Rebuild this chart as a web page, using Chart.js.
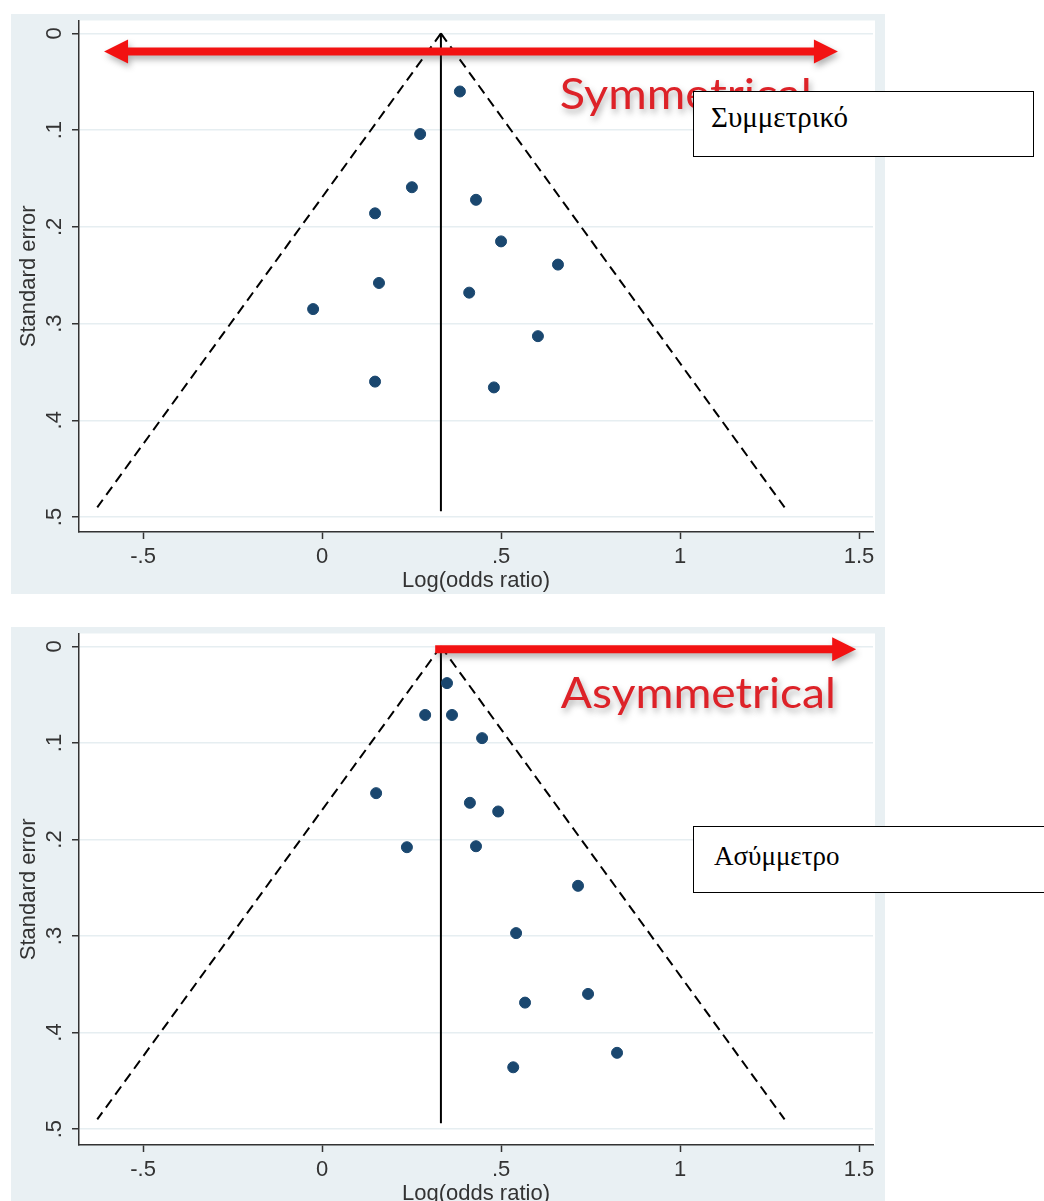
<!DOCTYPE html>
<html>
<head>
<meta charset="utf-8">
<title>Funnel plots</title>
<script src="https://cdn.jsdelivr.net/npm/chart.js@4.4.1/dist/chart.umd.min.js"></script>
<style>
  body { margin: 0; background: #fff; overflow: hidden; width: 1044px; height: 1201px; position: relative; }
  canvas { position: absolute; }
  #symChart { left: 11px; top: 14px; }
  #asymChart { left: 11px; top: 627px; }
  .note {
    position: absolute; background: #fff; border: 1px solid #000; box-sizing: border-box;
    font-family: "Liberation Serif", "DejaVu Serif", serif; font-size: 27px; color: #000;
  }
</style>
</head>
<body>
<canvas id="symChart" width="874" height="580"></canvas>
<canvas id="asymChart" width="874" height="580"></canvas>
<div class="note" style="left:693px;top:91px;width:341px;height:66px;padding:9px 0 0 17px;font-size:29px;">Συμμετρικό</div>
<div class="note" style="left:693px;top:826px;width:360px;height:67px;padding:14px 0 0 20px;">Ασύμμετρο</div>

<script>
// AXES
const xTicks = [-0.5, 0, 0.5, 1, 1.5];
const xTickLabels = ["-.5", "0", ".5", "1", "1.5"];
const yTicks = [0, 0.1, 0.2, 0.3, 0.4, 0.5];
const yTickLabels = ["0", ".1", ".2", ".3", ".4", ".5"];

// pooled estimate + pseudo 95% limits (same in both plots)
const funnelSE = [0, 0.49];
const funnelLeft = [0.332, -0.628];
const funnelRight = [0.332, 1.292];
const centreX = [0.332, 0.332];
const centreSE = [0, 0.494];

// symmetrical plot
const symLogOR = [0.385, 0.274, 0.251, 0.148, 0.430, 0.500, 0.659, 0.159, 0.411, -0.025, 0.603, 0.148, 0.480];
const symSE    = [0.060, 0.104, 0.159, 0.186, 0.172, 0.215, 0.239, 0.258, 0.268, 0.285, 0.313, 0.360, 0.366];

// asymmetrical plot
const asymLogOR = [0.349, 0.288, 0.363, 0.447, 0.151, 0.413, 0.492, 0.237, 0.430, 0.715, 0.542, 0.743, 0.567, 0.824, 0.534];
const asymSE    = [0.038, 0.071, 0.071, 0.095, 0.152, 0.162, 0.171, 0.208, 0.207, 0.248, 0.297, 0.360, 0.369, 0.421, 0.436];

const FONT = "'Liberation Sans', Arial, sans-serif";
const TXT = "#333";

const toPts = (xs, ys) => xs.map((x, i) => ({ x: x, y: ys[i] }));

// background, white plot region, red arrow + label
const panelPlugin = {
    id: "panel",
    beforeDraw(chart) {
        const { ctx, chartArea: a, width, height } = chart;
        ctx.save();
        ctx.fillStyle = "#e9f0f3";
        ctx.fillRect(0, 0, width, height);
        ctx.fillStyle = "#fff";
        ctx.fillRect(a.left, a.top, a.right - a.left + 2, a.bottom - a.top);
        ctx.restore();
    },
    afterDraw(chart, args, o) {
        const { ctx, scales: { x, y } } = chart;
        const x1 = x.getPixelForValue(o.arrowFrom);
        const x2 = x.getPixelForValue(o.arrowTo);
        const ay = y.getPixelForValue(o.arrowSE);
        const t = 4, hl = 24, hh = 12;

        ctx.save();
        ctx.shadowColor = "rgba(60,60,60,0.4)";
        ctx.shadowBlur = 6;
        ctx.shadowOffsetX = 2;
        ctx.shadowOffsetY = 4;
        ctx.fillStyle = "#f21212";
        ctx.beginPath();
        if (o.bothHeads) {
            ctx.moveTo(x1, ay);
            ctx.lineTo(x1 + hl, ay - hh);
            ctx.lineTo(x1 + hl, ay - t);
        } else {
            ctx.moveTo(x1, ay - t);
        }
        ctx.lineTo(x2 - hl, ay - t);
        ctx.lineTo(x2 - hl, ay - hh);
        ctx.lineTo(x2, ay);
        ctx.lineTo(x2 - hl, ay + hh);
        ctx.lineTo(x2 - hl, ay + t);
        if (o.bothHeads) {
            ctx.lineTo(x1 + hl, ay + t);
            ctx.lineTo(x1 + hl, ay + hh);
        } else {
            ctx.lineTo(x1, ay + t);
        }
        ctx.closePath();
        ctx.fill();

        // label
        ctx.font = "42px Lato, 'Open Sans', sans-serif";
        const w = ctx.measureText(o.label).width;
        ctx.translate(x.getPixelForValue(o.labelX), y.getPixelForValue(o.labelSE));
        ctx.scale(o.labelWidth / w, 1);
        ctx.fillStyle = "#dd2228";
        ctx.textBaseline = "alphabetic";
        ctx.fillText(o.label, 0, 0);
        ctx.restore();
    }
};

function lineSet(xs, ys, dashed) {
    return {
        data: toPts(xs, ys),
        showLine: true,
        borderColor: "#000",
        borderWidth: 2,
        borderDash: dashed ? [10, 6] : [],
        pointRadius: 0,
        pointHoverRadius: 0,
        fill: false
    };
}

function makeChart(id, pts, yMin, yMax, padTop, note) {
    return new Chart(document.getElementById(id), {
        type: "scatter",
        data: {
            datasets: [
                {
                    data: pts,
                    backgroundColor: "#1a476f",
                    borderColor: "#1a476f",
                    pointRadius: 5.5,
                    pointHoverRadius: 5.5
                },
                lineSet(funnelLeft, funnelSE, true),
                lineSet(funnelRight, funnelSE, true),
                lineSet(centreX, centreSE, false)
            ]
        },
        options: {
            responsive: false,
            animation: false,
            devicePixelRatio: 1,
            layout: { padding: { top: padTop, right: 12, left: 0, bottom: 0 } },
            plugins: {
                legend: { display: false },
                tooltip: { enabled: false },
                panel: note
            },
            scales: {
                x: {
                    type: "linear",
                    position: "bottom",
                    min: -0.679,
                    max: 1.539,
                    afterBuildTicks: s => { s.ticks = xTicks.map(v => ({ value: v })); },
                    afterFit: s => { s.height = 62; s.paddingLeft = 0; s.paddingRight = 0; },
                    ticks: {
                        callback: v => xTickLabels[xTicks.indexOf(v)],
                        font: { family: FONT, size: 22 },
                        color: TXT,
                        padding: 5,
                        autoSkip: false,
                        maxRotation: 0
                    },
                    grid: { drawOnChartArea: false, tickLength: 7, tickColor: "#333", tickWidth: 1.5 },
                    border: { color: "#333", width: 1.5 },
                    title: { display: true, text: "Log(odds ratio)", font: { family: FONT, size: 22 }, color: TXT, padding: 0 }
                },
                y: {
                    type: "linear",
                    reverse: true,
                    min: yMin,
                    max: yMax,
                    afterBuildTicks: s => { s.ticks = yTicks.map(v => ({ value: v })); },
                    afterFit: s => { s.width = 68; s.paddingTop = 0; s.paddingBottom = 0; },
                    ticks: {
                        callback: v => yTickLabels[yTicks.indexOf(v)],
                        font: { family: FONT, size: 22 },
                        color: TXT,
                        minRotation: 90,
                        maxRotation: 90,
                        crossAlign: "center",
                        padding: 8,
                        autoSkip: false
                    },
                    grid: { color: "#e6eef1", lineWidth: 1.5, tickLength: 7, tickColor: "#333", tickWidth: 1.5 },
                    border: { color: "#333", width: 1.5 },
                    title: { display: true, text: "Standard error", font: { family: FONT, size: 22 }, color: TXT, padding: { top: 5, bottom: 0 } }
                }
            }
        },
        plugins: [panelPlugin]
    });
}

Promise.all([
    document.fonts.load("42px Lato"),
    document.fonts.load("22px 'Liberation Sans'")
]).catch(() => {}).then(() => {
    makeChart("symChart", toPts(symLogOR, symSE), -0.0134, 0.5155, 0, {
        arrowFrom: -0.609, arrowTo: 1.441, arrowSE: 0.0186, bothHeads: true,
        label: "Symmetrical", labelX: 0.664, labelSE: 0.078, labelWidth: 252
    });
    makeChart("asymChart", toPts(asymLogOR, asymSE), -0.0134, 0.5165, 3, {
        arrowFrom: 0.316, arrowTo: 1.492, arrowSE: 0.003, bothHeads: false,
        label: "Asymmetrical", labelX: 0.667, labelSE: 0.064, labelWidth: 275
    });
});
</script>
</body>
</html>
